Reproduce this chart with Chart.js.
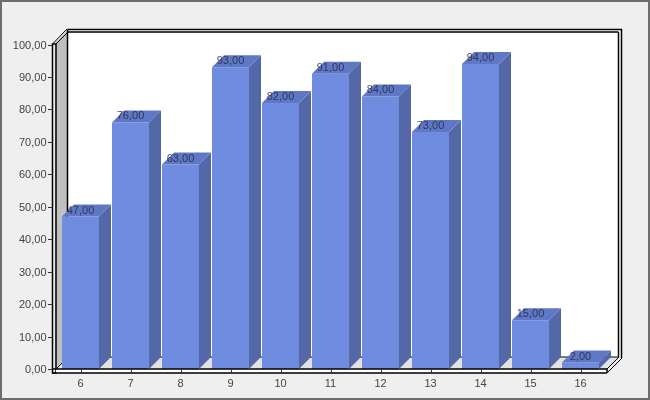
<!DOCTYPE html>
<html>
<head>
<meta charset="utf-8">
<style>
html, body { margin: 0; padding: 0; background: #efefef; overflow: hidden; }
canvas { display: block; }
</style>
<script src="https://cdn.jsdelivr.net/npm/chart.js@4"></script>
</head>
<body>
<canvas id="chart" width="650" height="400"></canvas>
<script>
const categories = ['6', '7', '8', '9', '10', '11', '12', '13', '14', '15', '16'];
const values = [47, 76, 63, 93, 82, 91, 84, 73, 94, 15, 2];
const DEPTH = 12;
const FONT = '11px "Liberation Sans", Arial, sans-serif';

function fmt(v) {
    return Number(v).toFixed(2).replace('.', ',');
}

function poly(ctx, pts, fill) {
    ctx.beginPath();
    ctx.moveTo(pts[0][0], pts[0][1]);
    for (let i = 1; i < pts.length; i++) ctx.lineTo(pts[i][0], pts[i][1]);
    ctx.closePath();
    ctx.fillStyle = fill;
    ctx.fill();
}

function line(ctx, x1, y1, x2, y2) {
    ctx.beginPath();
    ctx.moveTo(x1, y1);
    ctx.lineTo(x2, y2);
    ctx.stroke();
}

// background, walls and floor of the 3d box
const box = {
    id: 'box',
    beforeDraw(chart) {
        const ctx = chart.ctx;
        const l = 52, r = 607, t = 44, b = 369;
        ctx.save();
        ctx.fillStyle = '#efefef';
        ctx.fillRect(0, 0, chart.width, chart.height);
        ctx.strokeStyle = '#6e6e6e';
        ctx.lineWidth = 2;
        ctx.strokeRect(1, 1, chart.width - 2, chart.height - 2);

        // back wall
        ctx.fillStyle = '#fff';
        ctx.fillRect(l + 15, t - 15, 554, b - t + 3);
        // left wall
        poly(ctx, [[l + 3, t - 1], [l + 15, t - 13], [l + 15, b - 12], [l + 3, b]], '#c0c0c0');
        // floor
        poly(ctx, [[l + 3, b], [l + 15, b - 12], [r + 12, b - 12], [r, b]], '#e2e2e2');

        ctx.strokeStyle = '#000';
        ctx.lineWidth = 1.5;
        // back frame
        line(ctx, l + 15.5, t - 14.5, r + 15, t - 14.5);
        line(ctx, l + 15.5, t - 12, r + 11.5, t - 12);
        line(ctx, l + 15.5, t - 14.5, l + 15.5, b - 12);
        line(ctx, r + 11.5, t - 12, r + 11.5, b - 12);
        line(ctx, r + 14.5, t - 15, r + 14.5, b - 11);
        ctx.lineWidth = 1;
        line(ctx, l + 15, b - 12, r + 12, b - 12);
        // top-left and floor diagonals
        line(ctx, l + 0.5, t, l + 15, t - 15);
        line(ctx, l + 4, t, l + 16, t - 12);
        line(ctx, l + 4, b, l + 15, b - 11);
        line(ctx, r, b, r + 12, b - 12);
        line(ctx, r, b + 4, r + 15, b - 11);
        ctx.restore();
    },
    afterDatasetsDraw(chart) {
        const ctx = chart.ctx;
        const l = 52, r = 607, t = 44, b = 369;
        ctx.save();
        ctx.strokeStyle = '#000';
        ctx.lineWidth = 1.5;
        // front post and floor edge
        ctx.strokeRect(l + 0.5, t, 3.5, b + 4 - t);
        ctx.fillStyle = '#fff';
        ctx.fillRect(l + 4, b + 0.5, r - l - 4, 3);
        line(ctx, l, b, r, b);
        line(ctx, l, b + 4, r, b + 4);
        line(ctx, r, b, r, b + 4);
        ctx.lineWidth = 1;
        // y ticks
        ctx.strokeStyle = '#333';
        chart.scales.y.ticks.forEach((tk, i) => {
            const y = Math.round(chart.scales.y.getPixelForTick(i)) + 0.5;
            line(ctx, l - 4, y, l, y);
        });
        // x ticks
        chart.scales.x.ticks.forEach((tk, i) => {
            const x = Math.round(chart.scales.x.getPixelForTick(i)) + 0.5;
            line(ctx, x, b, x, b + 4);
        });
        ctx.restore();
    }
};

// side and top faces of each bar, plus the value text
const bars3d = {
    id: 'bars3d',
    afterDatasetsDraw(chart) {
        const ctx = chart.ctx;
        const meta = chart.getDatasetMeta(0);
        ctx.save();
        meta.data.forEach((el, i) => {
            const p = el.getProps(['x', 'y', 'base', 'width'], true);
            const x0 = p.x - p.width / 2, x1 = p.x + p.width / 2;
            poly(ctx, [[x1, p.y], [x1 + DEPTH, p.y - DEPTH], [x1 + DEPTH, p.base - DEPTH], [x1, p.base]], '#5468a8');
            poly(ctx, [[x0, p.y], [x0 + DEPTH, p.y - DEPTH], [x1 + DEPTH, p.y - DEPTH], [x1, p.y]], '#5f78c6');
            ctx.font = FONT;
            ctx.fillStyle = 'rgba(40,44,70,0.85)';
            ctx.textAlign = 'center';
            ctx.textBaseline = 'middle';
            ctx.fillText(fmt(values[i]), p.x, p.y - 6);
        });
        ctx.restore();
    }
};

new Chart(document.getElementById('chart'), {
    type: 'bar',
    data: {
        labels: categories,
        datasets: [{
            data: values,
            backgroundColor: '#6f8ce0',
            borderWidth: 0,
            categoryPercentage: 1,
            barPercentage: 0.74
        }]
    },
    plugins: [box, bars3d],
    options: {
        responsive: false,
        animation: false,
        devicePixelRatio: 1,
        layout: { padding: { top: 44.5, right: 44.5, left: 0, bottom: 0 } },
        plugins: { legend: { display: false }, tooltip: { enabled: false } },
        scales: {
            x: {
                grid: { display: false },
                border: { display: false },
                afterFit(s) { s.height = 31; },
                ticks: {
                    color: '#444',
                    font: { family: '"Liberation Sans"', size: 11 },
                    padding: 0,
                    maxRotation: 0
                }
            },
            y: {
                min: 0,
                max: 100,
                grid: { display: false },
                border: { display: false },
                afterFit(s) { s.width = 55.5; },
                ticks: {
                    stepSize: 10,
                    color: '#444',
                    font: { family: '"Liberation Sans"', size: 11 },
                    padding: 1,
                    labelOffset: 1,
                    callback: v => fmt(v)
                }
            }
        }
    }
});
</script>
</body>
</html>
